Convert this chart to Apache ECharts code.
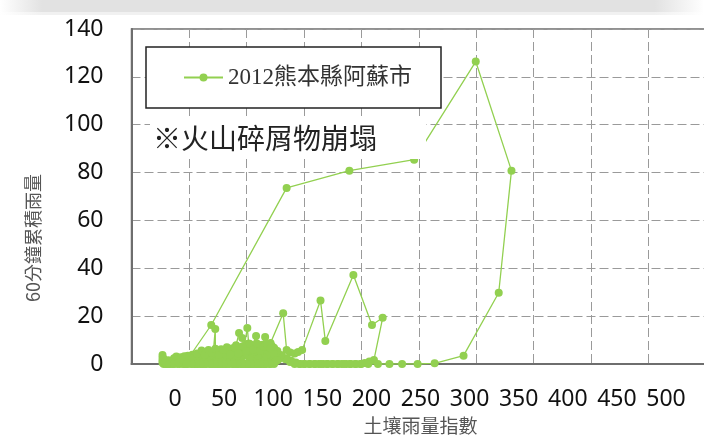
<!DOCTYPE html>
<html>
<head>
<meta charset="utf-8">
<script src="https://cdn.jsdelivr.net/npm/echarts@6/dist/echarts.min.js"></script>
<style>
  html, body { margin: 0; padding: 0; background: #fff; }
  #chart { width: 704px; height: 438px; }
</style>
</head>
<body>
<div id="chart"></div>
<script>
// Soil water index (x) vs. 60-minute cumulative rainfall (y), Aso City, Kumamoto, 2012.
// The record is kept in time order, split into named stretches.

const seriesName = '2012熊本縣阿蘇市';
const xTitle = '土壤雨量指數';
const yTitle = '60分鐘累積雨量';
const noteText = '※火山碎屑物崩塌';

const xTicks = { min: 0, max: 500, step: 50 };
const yTicks = { min: 0, max: 140, step: 20 };

// dry start, low index
const dryStart = [
  [36,0],[33,0],[30,0],[28,0],[27,0.5],[27,1.5],[27,2.6],[27,3.8],[28,2.2],[29,0.6],
  [31,0],[33,0.4],[35,1.2],[37,2.4],[39,3.1],[41,2.2],[43,1],[42,0],[40,0],[38,0.4],
  [40,1.6],[43,2.8],[46,3.2],[48,2.2],[49,0.8],[47,0]
];

// early showers
const earlyShowers = [
  [45,0],[47,1],[50,2.4],[53,3.9],[56,3.2],[58,1.6],[57,0],[55,0],[54,1.2],[57,3],
  [60,4.4],[63,3.6],[66,2.2],[65,0.6],[63,0],[61,0],[62,1.6],[65,3.4],[68,4.8],[71,3.8],
  [72.9,14.6],[73,4.4],[76,5.2],[79,3.4],[78,1.2],[76,0],[73,0],[70,0],[68,0.6],[70,2.2],
  [74,4.6],[78,6.2],[82,5.4],[85,3.6],[84,1.4],[82,0],[79,0]
];

// rainy season showers
const midShowers = [
  [80,0.8],[84,3.8],[88,6.6],[91,7.8],[93.6,13],[96.3,10.9],[98,7.4],[100.8,15],[102,8.6],[105,7.2],
  [108.4,11.7],[110,8.2],[113,6.8],[116.3,11.3],[118,7.4],[120,5.2],[121,3],[119,1.4],[116,0.4],[113,0],
  [109,0],[105,0],[101,0],[97,0],[94,0.6],[92,2.2],[95,4.6],[99,6.2],[103,7.8],[107,6.2],
  [111,4.4],[114,2.6],[112,1],[108,0],[104,0],[100,0],[96,0],[92,0],[89,0],[86,0.6],
  [88,3.2],[92,5.6],[96,7.2],[100,8.2],[104,5.4],[108,3.4],[106,1.2],[103,0],[99,0],[95,1.8],
  [98,4],[102,3],[106,4.8],[110,6.6],[114,8],[118,6.4],[122,7.6],[125,6],[127,3.6],[124,1.6],
  [120,0.4],[116,0],[112,0]
];

// first heavy spell and its recession
const event1 = [
  [108,0.4],[112,2.4],[116,5],[119,7.2],[121,8.8],[132,21.2],[135,5.8],[138,4.8],[142,4.4],[145,5],
  [148.5,5.8],[164.5,26.5],[168.7,9.6],[193.1,37.2],[209.3,16.3],[218.6,19.3],[211,1.7],[207,1],[203,0.4],[199,0],
  [195,0],[191,0],[187,0],[183,0],[179,0],[175,0],[171,0],[167,0],[163,0],[159,0],
  [155,0],[151,0],[147,0],[143,0.6],[139,1.4],[135,2.4],[131,3.2],[128,2],[125,0.8],[121,0],
  [117,0],[113,0],[109,0],[105,0],[101,0],[97,0],[93,0],[89,0],[85,0],[81,0],
  [77,0],[73,0],[69,0],[65,0],[61,0],[57,0],[53,0],[49,0],[46,0]
];

// main storm (July) and its recession
const event2 = [
  [45,0.8],[69.4,16.3],[135,73.6],[189.6,80.8],[246,85.4],[299.6,126.4],[330.7,80.8],[319.6,29.8],[289,3.5],[263.8,0.3],
  [249,0],[235.5,0],[224.5,0],[214.5,0],[206,0],[200,0],[195,0],[190,0],[185,0],[180,0],
  [175,0],[170,0],[165,0],[160,0],[155,0],[150,0]
];

// autumn showers
const lateShowers = [
  [146,0],[142,0],[138,0.8],[134,2],[130,3.8],[127,5.4],[124,6.8],[121,5.6],[118,4],[115,2.6],
  [112,1.6],[110,3.4],[107,5.2],[104,6.6],[101,5],[98,3.4],[95,2],[92,3.6],[89,5.4],[86,6.2],
  [83,4.8],[80,3],[77,1.6],[74,3],[71,4.4],[68,3.4],[65,2],[62,3],[59,3.8],[56,2.4],
  [53,1.4],[50,2.8],[47,1.6],[44,2.4],[41,1.4],[38,2],[35,0.8],[32,1.6],[30,0.4],[33,0],
  [37,0],[41,0.6],[45,1.8],[49,3.4],[53,2.2],[57,4.4],[61,5.6],[64,4],[67,5.8],[70,4.6],
  [73,6.4],[76,3.8],[80,5.8],[83,7],[86,4],[90,6.8],[93,4.4],[97,7.4],[100,5.4],[103,8.4],
  [106,6],[109,8.6],[112,5.4],[115,7.2],[118,8.4],[121,6.6],[124,4.2],[127,1.6],[124,0],[120,0],
  [116,0],[112,0],[108,0],[104,0],[100,0],[96,0],[92,0],[88,0],[84,0],[80,0],
  [76,0],[72,0],[68,0],[64,0],[60,0],[56,0],[52,0],[48,0]
];

const record = [].concat(dryStart, earlyShowers, midShowers, event1, event2, lateShowers);

const GREEN = '#92D050';
const GRID_LINE = { color: '#9a9a9a', width: 1, type: [9, 4] };
const AXIS_LINE = { color: '#6e6e6e', width: 2 };
const NUM_FONT = '"Noto Sans", "Open Sans", sans-serif';
const CJK_FONT = '"Noto Sans CJK TC", "Noto Sans CJK SC", sans-serif';

const chart = echarts.init(document.getElementById('chart'), null, { renderer: 'canvas' });

chart.setOption({
  animation: false,
  backgroundColor: '#ffffff',
  textStyle: { fontFamily: NUM_FONT },
  grid: [
    { left: 131.5, right: -2, top: 29, bottom: 74, show: true, borderColor: '#6e6e6e', borderWidth: 1.5,
      backgroundColor: 'transparent', containLabel: false, outerBoundsMode: 'none' },
    { left: 175, right: 38, top: 29, bottom: 74, containLabel: false, outerBoundsMode: 'none' }
  ],
  xAxis: [
    {
      type: 'value', gridIndex: 0, min: xTicks.min, max: xTicks.max, interval: xTicks.step,
      axisLine: { show: true, onZero: false, lineStyle: AXIS_LINE },
      axisTick: { show: false },
      axisLabel: { show: false },
      splitLine: { show: true, lineStyle: GRID_LINE }
    },
    {
      type: 'value', gridIndex: 1, min: xTicks.min, max: xTicks.max, interval: xTicks.step,
      axisLine: { show: false }, axisTick: { show: false }, splitLine: { show: false },
      axisLabel: { color: '#111', fontSize: 23, margin: 24, fontFamily: NUM_FONT, hideOverlap: false },
      name: xTitle, nameLocation: 'middle', nameGap: 48,
      nameTextStyle: { color: '#555', fontSize: 19, fontFamily: CJK_FONT }
    }
  ],
  yAxis: [
    {
      type: 'value', gridIndex: 0, min: yTicks.min, max: yTicks.max, interval: yTicks.step,
      axisLine: { show: true, onZero: false, lineStyle: AXIS_LINE },
      axisTick: { show: false },
      axisLabel: { color: '#111', fontSize: 23, margin: 28, fontFamily: NUM_FONT },
      splitLine: { show: true, lineStyle: GRID_LINE }
    },
    { type: 'value', gridIndex: 1, min: yTicks.min, max: yTicks.max, show: false }
  ],
  legend: {
    left: 146, top: 47,
    data: [seriesName],
    backgroundColor: '#ffffff',
    borderColor: '#222', borderWidth: 1.5, borderRadius: 0,
    padding: [19, 29, 19, 37],
    itemWidth: 39, itemHeight: 10,
    textStyle: { color: '#333', fontSize: 23, fontFamily: '"Liberation Serif", "Noto Sans CJK TC", serif' },
    z: 50
  },
  series: [{
    name: seriesName,
    type: 'line',
    xAxisIndex: 0, yAxisIndex: 0,
    data: record,
    symbol: 'circle',
    symbolSize: 8,
    showSymbol: true,
    lineStyle: { color: GREEN, width: 1.3 },
    itemStyle: { color: GREEN },
    emphasis: { disabled: true },
    z: 3
  }],
  graphic: [
    {
      type: 'rect', silent: true, z: 0,
      shape: { x: 0, y: 0, width: 704, height: 12 },
      style: { fill: new echarts.graphic.LinearGradient(0, 0, 1, 0, [
        { offset: 0, color: '#ffffff' }, { offset: 0.06, color: '#e2e2e2' },
        { offset: 0.93, color: '#e2e2e2' }, { offset: 1, color: '#ffffff' }
      ]) }
    },
    {
      type: 'rect', silent: true, z: 0,
      shape: { x: 0, y: 12, width: 704, height: 3 },
      style: { fill: new echarts.graphic.LinearGradient(0, 0, 1, 0, [
        { offset: 0, color: '#ffffff' }, { offset: 0.06, color: '#f1f1f1' },
        { offset: 0.93, color: '#f1f1f1' }, { offset: 1, color: '#ffffff' }
      ]) }
    },
    {
      type: 'rect', silent: true, z: 100,
      shape: { x: 150, y: 118, width: 276, height: 41 },
      style: { fill: '#ffffff' }
    },
    {
      type: 'text', silent: true, z: 101, x: 153, y: 138.5,
      style: { text: noteText, fill: '#222', fontSize: 28, fontFamily: CJK_FONT, align: 'left', verticalAlign: 'middle' }
    },
    {
      type: 'text', silent: true, x: 33, y: 238, rotation: Math.PI / 2, z: 100,
      style: { text: yTitle, fill: '#555', fontSize: 18, fontFamily: CJK_FONT, align: 'center', verticalAlign: 'middle' }
    }
  ]
});
</script>
</body>
</html>
